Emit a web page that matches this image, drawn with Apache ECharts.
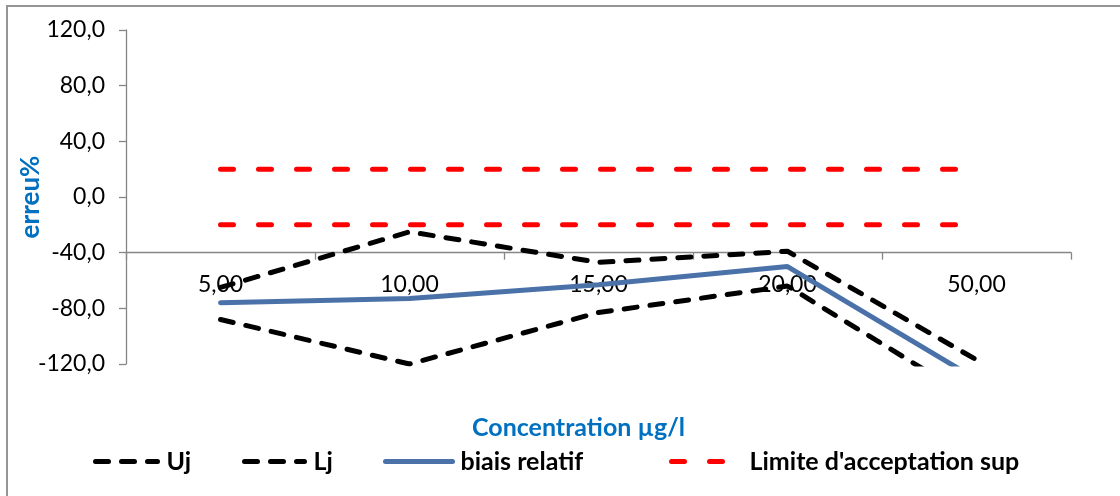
<!DOCTYPE html>
<html><head><meta charset="utf-8">
<script src="https://cdn.jsdelivr.net/npm/echarts@6/dist/echarts.min.js"></script>
<style>html,body{margin:0;padding:0;background:#fff}#c{width:1120px;height:496px}</style>
</head><body><div id="c"></div>
<script>
const categories = ['5,00', '10,00', '15,00', '20,00', '50,00'];
const uj = [-65, -25, -47, -39, -117];
const lj = [-88, -120, -83, -64, -147];
const biais = [-76, -73, -63, -50, -131];
const limSup = [20, 20, 20, 20, 20];
const limInf = [-20, -20, -20, -20, -20];
const yTicks = { min: -120, max: 120, interval: 40 };
const xCross = -40;

const FONT = 'Lato, sans-serif';
const chart = echarts.init(document.getElementById('c'), null, { renderer: 'canvas' });
const gridTop = 30, gridBottom = 132, H = 496;
const gridH = H - gridTop - gridBottom;
const xOffset = -gridH * (xCross - yTicks.min) / (yTicks.max - yTicks.min);

const blackDash = { color: '#000', width: 5, type: [13, 13], cap: 'round' };
const redDash = { color: '#ff0000', width: 5, type: [13, 25], cap: 'round' };
const legendText = { fontFamily: FONT, fontWeight: 'bold', fontSize: 25, color: '#000' };
function lg(name, left, w, gap, ls) {
  return { data: [name], left: left, top: 449, itemWidth: w, itemHeight: 16,
    itemStyle: { color: 'rgba(0,0,0,0)', borderWidth: 0 },
    lineStyle: ls,
    textStyle: Object.assign({ padding: [0, 0, 0, gap] }, legendText), padding: 0, itemGap: 0 };
}

chart.setOption({
  animation: false,
  graphic: [{ type: 'rect', shape: { x: 7, y: 6, width: 1300, height: 700 }, style: { fill: 'none', stroke: '#959595', lineWidth: 2 }, silent: true }],
  grid: { left: 126, right: 49, top: gridTop, bottom: gridBottom },
  legend: [
    lg('Uj', 93, 62, 4, { color: '#000', width: 5, type: [13, 13], cap: 'round' }),
    lg('Lj', 242, 60, 4, { color: '#000', width: 5, type: [13, 13], cap: 'round' }),
    lg('biais relatif', 383, 67, 3, { color: '#4a72a8', width: 5, type: 'solid', cap: 'round' }),
    lg("Limite d'acceptation sup", 669, 59, 14, { color: '#ff0000', width: 5, type: [13, 25], cap: 'round' })
  ],
  xAxis: {
    type: 'category', data: categories, boundaryGap: true, offset: xOffset,
    name: 'Concentration µg/l', nameLocation: 'middle', nameGap: -xOffset + 51, nameMoveOverlap: false,
    nameTextStyle: { fontFamily: FONT, fontWeight: 'bold', fontSize: 25, color: '#0070c0', padding: [0, 40, 0, 0] },
    axisLine: { onZero: false, lineStyle: { color: '#868686', width: 1.3 } },
    axisTick: { show: true, length: 7, lineStyle: { color: '#868686', width: 1.3 } },
    axisLabel: { fontFamily: FONT, fontSize: 23, color: '#000', margin: 20 }
  },
  yAxis: {
    type: 'value', min: yTicks.min, max: yTicks.max, interval: yTicks.interval,
    name: 'erreu%', nameLocation: 'middle', nameGap: 82, nameRotate: 90, nameMoveOverlap: false,
    nameTextStyle: { fontFamily: FONT, fontWeight: 'bold', fontSize: 26, color: '#0070c0' },
    axisLine: { show: true, lineStyle: { color: '#868686', width: 1.3 } },
    axisTick: { show: true, length: 7, lineStyle: { color: '#868686', width: 1.3 } },
    splitLine: { show: false },
    axisLabel: { fontFamily: FONT, fontSize: 23, color: '#000', margin: 21, formatter: v => v.toFixed(1).replace('.', ',') }
  },
  series: [
    { name: 'Uj', type: 'line', data: uj, symbol: 'none', lineStyle: blackDash, itemStyle: { color: '#000' } },
    { name: 'Lj', type: 'line', data: lj, symbol: 'none', lineStyle: blackDash, itemStyle: { color: '#000' } },
    { name: 'biais relatif', type: 'line', data: biais, symbol: 'none', lineStyle: { color: '#4a72a8', width: 5, cap: 'round' }, itemStyle: { color: '#4a72a8' } },
    { name: "Limite d'acceptation sup", type: 'line', data: limSup, symbol: 'none', lineStyle: redDash, itemStyle: { color: '#ff0000' } },
    { name: "Limite d'acceptation inf", type: 'line', data: limInf, symbol: 'none', lineStyle: redDash, itemStyle: { color: '#ff0000' } }
  ]
});
</script></body></html>
